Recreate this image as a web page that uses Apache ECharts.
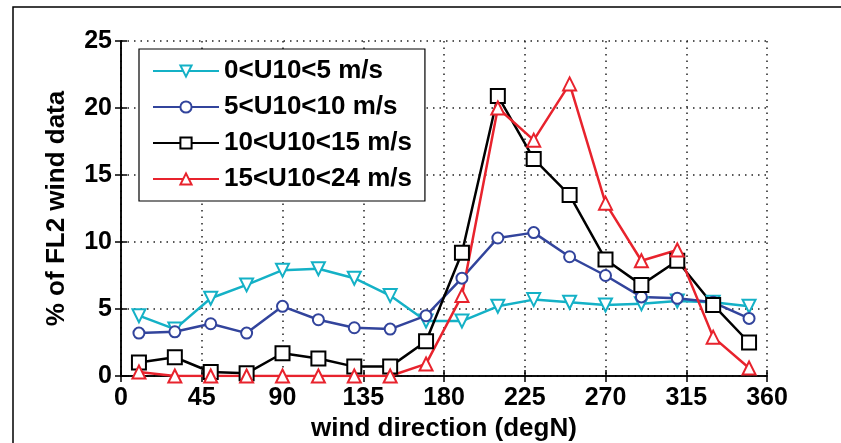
<!DOCTYPE html>
<html>
<head>
<meta charset="utf-8">
<script src="https://cdn.jsdelivr.net/npm/echarts@6/dist/echarts.min.js"></script>
<style>html,body{margin:0;padding:0;background:#fff;}#c{width:841px;height:443px;}</style>
</head>
<body>
<div id="c"></div>
<script>
var directions = [10, 30, 50, 70, 90, 110, 130, 150, 170, 190, 210, 230, 250, 270, 290, 310, 330, 350];
var seriesNames = ['0<U10<5 m/s', '5<U10<10 m/s', '10<U10<15 m/s', '15<U10<24 m/s'];
var u0to5   = [4.5, 3.5, 5.8, 6.8, 7.9, 8.0, 7.3, 6.0, 4.1, 4.1, 5.2, 5.7, 5.5, 5.3, 5.4, 5.6, 5.5, 5.2];
var u5to10  = [3.2, 3.3, 3.9, 3.2, 5.2, 4.2, 3.6, 3.5, 4.5, 7.3, 10.3, 10.7, 8.9, 7.5, 5.9, 5.8, 5.5, 4.3];
var u10to15 = [1.0, 1.4, 0.3, 0.2, 1.7, 1.3, 0.7, 0.7, 2.6, 9.2, 20.9, 16.2, 13.5, 8.7, 6.8, 8.6, 5.3, 2.5];
var u15to24 = [0.3, 0.0, 0.0, 0.0, 0.0, 0.0, 0.0, 0.0, 0.9, 6.0, 20.0, 17.6, 21.8, 12.9, 8.6, 9.4, 2.9, 0.6];
var xTicks = [0, 45, 90, 135, 180, 225, 270, 315, 360];
var yTicks = [0, 5, 10, 15, 20, 25];

var colors = ['#14b1c6', '#32449c', '#000000', '#e8232d'];
var symbols = ['emptyTriangle', 'emptyCircle', 'emptyRect', 'emptyTriangle'];
var rotates = [180, 0, 0, 0];
var sizes = [13, 11, 14, 13];
var values = [u0to5, u5to10, u10to15, u15to24];

function pairs(arr) { return directions.map(function (d, i) { return [d, arr[i]]; }); }

var font = 'Liberation Sans, Arial, sans-serif';
var chart = echarts.init(document.getElementById('c'));
var series = values.map(function (v, k) {
  return {
    name: seriesNames[k],
    type: 'line',
    data: pairs(v),
    symbol: symbols[k],
    symbolRotate: rotates[k],
    symbolSize: sizes[k],
    showAllSymbol: true,
    lineStyle: { color: colors[k], width: 2.5 },
    itemStyle: { color: colors[k], borderWidth: 2.2 },
    animation: false
  };
});

chart.setOption({
  backgroundColor: '#fff',
  animation: false,
  graphic: [{
    type: 'rect', shape: { x: 13, y: 7, width: 900, height: 500 },
    style: { fill: 'none', stroke: '#000', lineWidth: 1.5 }, z: -10
  }],
  grid: { left: 121, top: 41, right: 74, bottom: 67, containLabel: false, outerBoundsMode: 'none' },
  legend: {
    orient: 'vertical', left: 139, top: 49,
    backgroundColor: '#fff', borderColor: '#000', borderWidth: 1.2,
    padding: [8, 13, 8, 13], itemGap: 8, itemWidth: 66, itemHeight: 14,
    textStyle: { fontFamily: font, fontSize: 26, fontWeight: 'bold', color: '#000', lineHeight: 28 },
    data: seriesNames
  },
  xAxis: [{
    type: 'value', min: 0, max: 360, interval: 45,
    name: 'wind direction (degN)', nameLocation: 'middle', nameGap: 38,
    nameTextStyle: { fontFamily: font, fontSize: 26, fontWeight: 'bold', color: '#000' },
    axisLine: { show: true, lineStyle: { color: '#000', width: 1.5 } },
    axisTick: { show: true, inside: true, length: 6, lineStyle: { color: '#000', width: 1.5 } },
    axisLabel: { fontFamily: font, fontSize: 25, fontWeight: 'bold', color: '#000', margin: 10,
      formatter: function (v) { return xTicks.indexOf(v) >= 0 ? String(v) : ''; } },
    splitLine: { show: true, lineStyle: { color: '#222', width: 1.5, type: [1.5, 5] } }
  }, {
    type: 'value', min: 0, max: 360, interval: 45, position: 'top',
    axisLine: { show: true, lineStyle: { color: '#000', width: 1.5 } },
    axisTick: { show: true, inside: true, length: 6, lineStyle: { color: '#000', width: 1.5 } },
    axisLabel: { show: false }, splitLine: { show: false }
  }],
  yAxis: [{
    type: 'value', min: 0, max: 25, interval: 5,
    name: '% of FL2 wind data', nameLocation: 'middle', nameGap: 51,
    nameTextStyle: { fontFamily: font, fontSize: 26, fontWeight: 'bold', color: '#000' },
    axisLine: { show: true, lineStyle: { color: '#000', width: 1.5 } },
    axisTick: { show: true, inside: true, length: 6, lineStyle: { color: '#000', width: 1.5 } },
    axisLabel: { fontFamily: font, fontSize: 25, fontWeight: 'bold', color: '#000', margin: 9,
      formatter: function (v) { return yTicks.indexOf(v) >= 0 ? String(v) : ''; } },
    splitLine: { show: true, lineStyle: { color: '#222', width: 1.5, type: [1.5, 5] } }
  }, {
    type: 'value', min: 0, max: 25, interval: 5, position: 'right',
    axisLine: { show: true, lineStyle: { color: '#000', width: 1.5 } },
    axisTick: { show: true, inside: true, length: 6, lineStyle: { color: '#000', width: 1.5 } },
    axisLabel: { show: false }, splitLine: { show: false }
  }],
  series: series
});
</script>
</body>
</html>
